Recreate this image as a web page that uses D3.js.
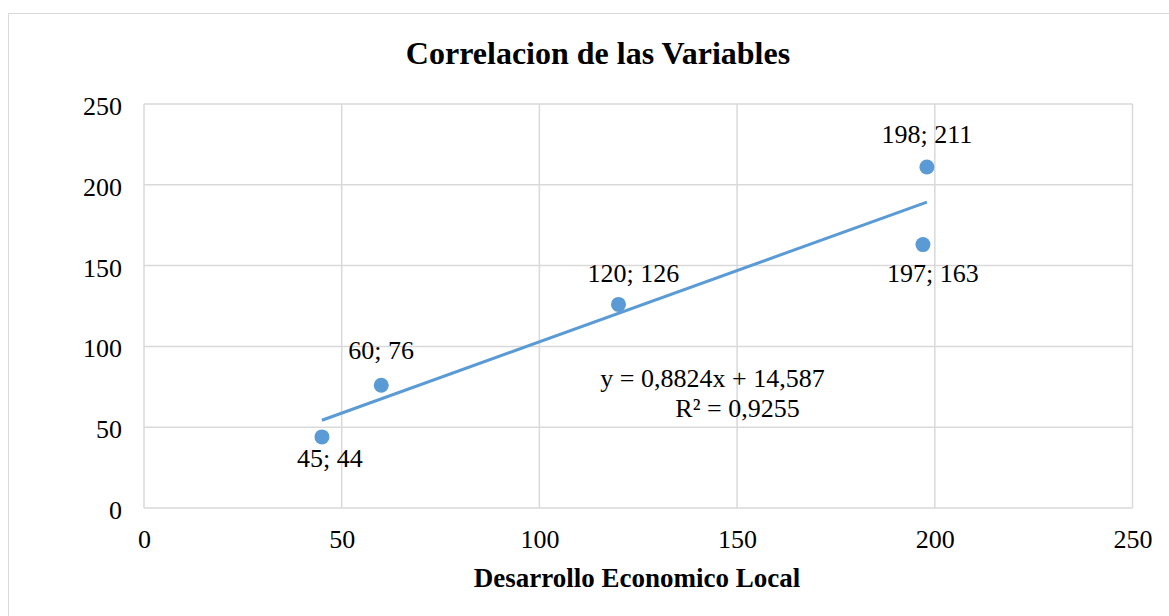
<!DOCTYPE html>
<html><head><meta charset="utf-8">
<script src="https://cdn.jsdelivr.net/npm/d3@7/dist/d3.min.js"></script>
<style>body{margin:0;background:#fff}text{font-family:"Liberation Serif","Times New Roman",serif;fill:#000}</style>
</head><body><svg id="c" width="1169" height="616"></svg>
<script>
const xValues = [45, 60, 120, 198, 197];
const yValues = [44, 76, 126, 211, 163];
const xTicks = [0, 50, 100, 150, 200, 250];
const yTicks = [0, 50, 100, 150, 200, 250];
const slope = 0.8824, intercept = 14.587;
const eqText = "y = 0,8824x + 14,587";
const r2Text = "R² = 0,9255";
const title = "Correlacion de las Variables";
const xTitle = "Desarrollo Economico Local";

// label nudges (pixels), style only
const labelDx = [8, 0, 15, 0, 10];
const labelDy = [30, -26, -22, -24, 37];

const svg = d3.select("#c");
svg.append("rect").attr("x",8.5).attr("y",13.5).attr("width",1200).attr("height",700)
  .attr("fill","#fff").attr("stroke","#d9d9d9").attr("stroke-width",1);

const L=144, R=1132.5, T=104, B=508;
const x = d3.scaleLinear().domain([0,250]).range([L,R]);
const y = d3.scaleLinear().domain([0,250]).range([B,T]);

// grid
svg.append("g").selectAll("line").data(xTicks).join("line")
  .attr("x1",d=>x(d)).attr("x2",d=>x(d)).attr("y1",T).attr("y2",B)
  .attr("stroke","#d9d9d9").attr("stroke-width",1.5);
svg.append("g").selectAll("line").data(yTicks).join("line")
  .attr("y1",d=>y(d)).attr("y2",d=>y(d)).attr("x1",L).attr("x2",R)
  .attr("stroke","#d9d9d9").attr("stroke-width",1.5);

// axes labels
const xa = svg.append("g").attr("transform",`translate(0,${B})`)
  .call(d3.axisBottom(x).tickValues(xTicks).tickSize(0).tickPadding(22));
xa.select(".domain").remove();
xa.selectAll("text").attr("font-size",26).attr("font-family","Liberation Serif").attr("fill","#000");
const ya = svg.append("g").attr("transform",`translate(${L},0)`)
  .call(d3.axisLeft(y).tickValues(yTicks).tickSize(0).tickPadding(22));
ya.select(".domain").remove();
ya.selectAll("text").attr("font-size",26).attr("font-family","Liberation Serif").attr("fill","#000").attr("dy","0.4em");

// trendline
const xMin = d3.min(xValues), xMax = d3.max(xValues);
svg.append("line").attr("x1",x(xMin)).attr("y1",y(slope*xMin+intercept))
  .attr("x2",x(xMax)).attr("y2",y(slope*xMax+intercept))
  .attr("stroke","#5b9bd5").attr("stroke-width",3);

// points
const pts = xValues.map((v,i)=>({x:v,y:yValues[i],i}));
svg.append("g").selectAll("circle").data(pts).join("circle")
  .attr("cx",d=>x(d.x)).attr("cy",d=>y(d.y)).attr("r",7.5).attr("fill","#5b9bd5");
svg.append("g").selectAll("text").data(pts).join("text")
  .attr("x",d=>x(d.x)+labelDx[d.i]).attr("y",d=>y(d.y)+labelDy[d.i])
  .attr("text-anchor","middle").attr("font-size",26)
  .text(d=>`${d.x}; ${d.y}`);

// equation
svg.append("text").attr("x",712.5).attr("y",387).attr("text-anchor","middle").attr("font-size",26).text(eqText);
svg.append("text").attr("x",737.5).attr("y",417).attr("text-anchor","middle").attr("font-size",26).text(r2Text);

// titles
svg.append("text").attr("x",598).attr("y",64).attr("text-anchor","middle")
  .attr("font-size",32).attr("font-weight","bold").text(title);
svg.append("text").attr("x",637).attr("y",587).attr("text-anchor","middle")
  .attr("font-size",27).attr("font-weight","bold").text(xTitle);
</script></body></html>
